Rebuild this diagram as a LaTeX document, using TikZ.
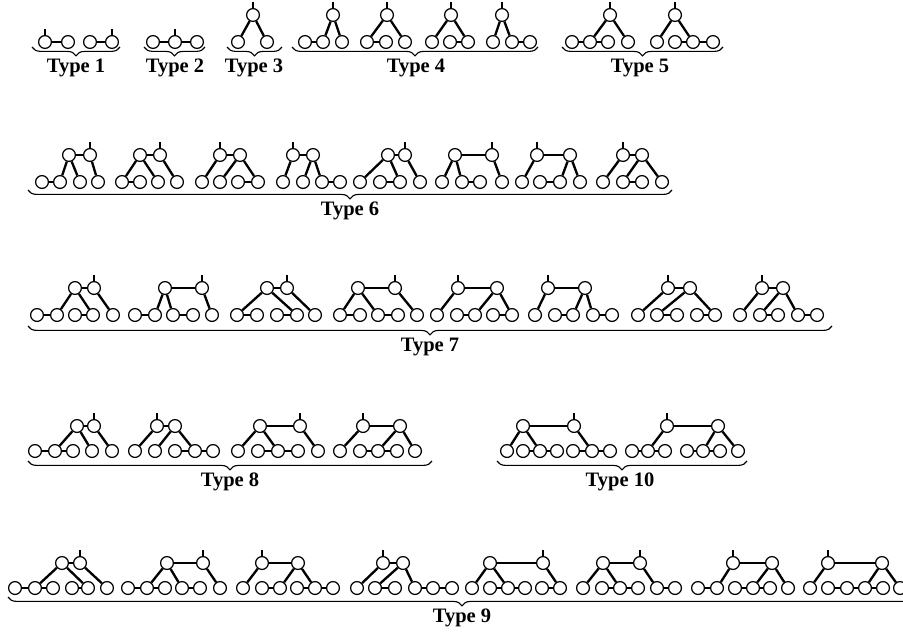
\documentclass[tikz,border=0pt]{standalone}
\usepackage{fontspec}
\setmainfont{Liberation Serif}
\usetikzlibrary{decorations.pathreplacing}

\tikzset{
  vtx/.style={circle,draw,fill=white,inner sep=0pt,minimum size=0.385cm,line width=1.05pt},
  edge/.style={line width=2pt},
  rootmark/.style={line width=0.9pt},
  brc/.style={decorate,decoration={brace,mirror,amplitude=7.5pt},line width=0.95pt},
  lbl/.style={font=\bfseries\fontsize{17.5}{19}\selectfont},
}

% rows of circles, links and the root mark
\newcommand{\botrow}[3]{\foreach \bx [count=\bi] in {#3} \node[vtx] (#1b\bi) at (\bx,#2) {};}
\newcommand{\toprow}[3]{\foreach \tx [count=\ti] in {#3} \node[vtx] (#1t\ti) at (\tx,#2) {};}
\newcommand{\links}[2]{\foreach \p/\q in {#2} \draw[edge] (#1\p) -- (#1\q);}
\newcommand{\rootat}[1]{\draw[rootmark] (#1.north) -- ++(0,-6);}

\begin{document}
\begin{tikzpicture}[x=0.03cm,y=-0.03cm]
  \useasboundingbox (0,0) rectangle (903,631);

  % Types 1 to 5
  \botrow{s1a}{42}{45,68} \links{s1a}{b1/b2} \rootat{s1ab1}
  \botrow{s1b}{42}{90,112} \links{s1b}{b1/b2} \rootat{s1bb2}
  \botrow{s2a}{42}{153,175,197} \links{s2a}{b1/b2,b2/b3} \rootat{s2ab2}
  \toprow{s3a}{15}{253} \botrow{s3a}{42}{238,267}
  \links{s3a}{t1/b1,t1/b2} \rootat{s3at1}
  \toprow{s4a}{15}{333} \botrow{s4a}{42}{305,323,342}
  \links{s4a}{b1/b2,t1/b2,t1/b3} \rootat{s4at1}
  \toprow{s4b}{15}{387} \botrow{s4b}{42}{367,386,405}
  \links{s4b}{t1/b1,b1/b2,t1/b3} \rootat{s4bt1}
  \toprow{s4c}{15}{451} \botrow{s4c}{42}{432,450,468}
  \links{s4c}{t1/b1,t1/b3,b2/b3} \rootat{s4ct1}
  \toprow{s4d}{15}{502} \botrow{s4d}{42}{493,512,530}
  \links{s4d}{t1/b1,t1/b2,b2/b3} \rootat{s4dt1}
  \toprow{s5a}{15}{610} \botrow{s5a}{42}{572,590,608,628}
  \links{s5a}{b1/b2,b2/b3,t1/b2,t1/b4} \rootat{s5at1}
  \toprow{s5b}{15}{675} \botrow{s5b}{42}{657,675,693,713}
  \links{s5b}{t1/b1,t1/b3,b2/b3,b3/b4} \rootat{s5bt1}

  \draw[brc] (32,47) -- (120,47);
  \draw[brc] (144,47) -- (205,47);
  \draw[brc] (227,47) -- (282,47);
  \draw[brc] (292,47) -- (538,47);
  \draw[brc] (562,47) -- (723,47);
  \node[lbl] (lab1) at (76,68) {Type 1};
  \node[lbl] (lab2) at (175,68) {Type 2};
  \node[lbl] (lab3) at (254,68) {Type 3};
  \node[lbl] (lab4) at (416,68) {Type 4};
  \node[lbl] (lab5) at (640,68) {Type 5};

  % Type 6
  \toprow{s6a}{155}{69,90} \botrow{s6a}{182}{42,60,80,98}
  \links{s6a}{t1/t2,b1/b2,t1/b2,t1/b3,t2/b4} \rootat{s6at2}
  \toprow{s6b}{155}{140,160} \botrow{s6b}{182}{122,140,158,177}
  \links{s6b}{t1/t2,b1/b2,t1/b1,t1/b3,t2/b4} \rootat{s6bt2}
  \toprow{s6c}{155}{220,240} \botrow{s6c}{182}{202,220,238,258}
  \links{s6c}{t1/t2,t1/b1,t2/b2,t2/b4,b3/b4} \rootat{s6ct1}
  \toprow{s6d}{155}{293,313} \botrow{s6d}{182}{283,303,322,340}
  \links{s6d}{t1/t2,t1/b1,t2/b2,t2/b3,b3/b4} \rootat{s6dt1}
  \toprow{s6e}{155}{388,405} \botrow{s6e}{182}{360,380,400,420}
  \links{s6e}{t1/t2,t1/b1,t1/b3,b2/b3,t2/b4} \rootat{s6et2}
  \toprow{s6f}{155}{455,492} \botrow{s6f}{182}{442,462,480,502}
  \links{s6f}{t1/t2,t1/b1,t1/b2,b2/b3,t2/b4} \rootat{s6ft2}
  \toprow{s6g}{155}{537,570} \botrow{s6g}{182}{522,540,560,580}
  \links{s6g}{t1/t2,t1/b1,t2/b3,t2/b4,b2/b3} \rootat{s6gt1}
  \toprow{s6h}{155}{623,642} \botrow{s6h}{182}{603,623,642,662}
  \links{s6h}{t1/t2,t1/b1,t2/b2,t2/b4,b2/b3} \rootat{s6ht1}
  \draw[brc] (28,190) -- (672,190);
  \node[lbl] (lab6) at (350,211) {Type 6};

  % Type 7
  \toprow{s7a}{288}{75,94} \botrow{s7a}{315}{37,57,75,93,113}
  \links{s7a}{b1/b2,b3/b4,t1/t2,t1/b2,t1/b4,t2/b5} \rootat{s7at2}
  \toprow{s7b}{288}{165,202} \botrow{s7b}{315}{135,155,173,193,212}
  \links{s7b}{b1/b2,b3/b4,t1/t2,t1/b2,t1/b3,t2/b5} \rootat{s7bt2}
  \toprow{s7c}{288}{267,287} \botrow{s7c}{315}{237,257,277,297,315}
  \links{s7c}{b1/b2,b3/b4,t1/t2,t1/b1,t1/b4,t2/b5} \rootat{s7ct2}
  \toprow{s7d}{288}{358,395} \botrow{s7d}{315}{340,360,378,398,417}
  \links{s7d}{b1/b2,b3/b4,t1/t2,t1/b1,t1/b3,t2/b5} \rootat{s7dt2}
  \toprow{s7e}{288}{458,497} \botrow{s7e}{315}{437,457,475,493,512}
  \links{s7e}{t1/t2,t1/b1,b2/b3,t2/b3,b4/b5,t2/b5} \rootat{s7et1}
  \toprow{s7f}{288}{548,585} \botrow{s7f}{315}{535,555,573,593,612}
  \links{s7f}{t1/t2,t1/b1,b2/b3,t2/b3,t2/b4,b4/b5} \rootat{s7ft1}
  \toprow{s7g}{288}{668,690} \botrow{s7g}{315}{638,657,677,697,715}
  \links{s7g}{t1/t2,t1/b1,t2/b2,t2/b5,b2/b3,b4/b5} \rootat{s7gt1}
  \toprow{s7h}{288}{762,783} \botrow{s7h}{315}{740,760,778,798,817}
  \links{s7h}{t1/t2,t1/b1,t2/b2,t2/b4,b2/b3,b4/b5} \rootat{s7ht1}
  \draw[brc] (28,326) -- (832,326);
  \node[lbl] (lab7) at (430,347) {Type 7};

  % Types 8 and 10
  \toprow{s8a}{426}{77,94} \botrow{s8a}{451}{35,55,73,92,112}
  \links{s8a}{b1/b2,b2/b3,t1/t2,t1/b2,t1/b4,t2/b5} \rootat{s8at2}
  \toprow{s8b}{426}{157,175} \botrow{s8b}{451}{135,155,175,195,213}
  \links{s8b}{b3/b4,b4/b5,t1/t2,t1/b1,t2/b2,t2/b4} \rootat{s8bt1}
  \toprow{s8c}{426}{260,300} \botrow{s8c}{451}{238,258,278,298,318}
  \links{s8c}{b2/b3,b3/b4,t1/t2,t1/b1,t1/b3,t2/b5} \rootat{s8ct2}
  \toprow{s8d}{426}{363,400} \botrow{s8d}{451}{340,360,378,397,415}
  \links{s8d}{b2/b3,b3/b4,t1/t2,t1/b1,t2/b3,t2/b5} \rootat{s8dt1}
  \toprow{s10a}{426}{523,574} \botrow{s10a}{451}{507,523,540,557,573,592,610}
  \links{s10a}{t1/t2,t1/b1,t1/b3,t2/b6,b2/b3,b3/b4,b5/b6,b6/b7} \rootat{s10at2}
  \toprow{s10b}{426}{667,718} \botrow{s10b}{451}{632,648,665,687,703,720,738}
  \links{s10b}{t1/t2,t1/b2,t2/b5,t2/b7,b1/b2,b2/b3,b4/b5,b5/b6} \rootat{s10bt1}
  \draw[brc] (28,461) -- (432,461);
  \draw[brc] (497,461) -- (747,461);
  \node[lbl] (lab8) at (230,482) {Type 8};
  \node[lbl] (lab10) at (620,482) {Type 10};

  % Type 9
  \toprow{s9a}{563}{62,80} \botrow{s9a}{588}{15,35,53,72,88,107}
  \links{s9a}{b1/b2,b2/b3,b4/b5,t1/t2,t1/b2,t1/b5,t2/b6} \rootat{s9at2}
  \toprow{s9b}{563}{167,203} \botrow{s9b}{588}{128,147,165,182,200,220}
  \links{s9b}{b1/b2,b2/b3,b4/b5,t1/t2,t1/b2,t1/b4,t2/b6} \rootat{s9bt2}
  \toprow{s9c}{563}{262,298} \botrow{s9c}{588}{243,262,280,297,315,333}
  \links{s9c}{b2/b3,b4/b5,b5/b6,t1/t2,t1/b1,t2/b3,t2/b5} \rootat{s9ct1}
  \toprow{s9d}{563}{383,403} \botrow{s9d}{588}{357,375,395,415,433,452}
  \links{s9d}{b2/b3,b4/b5,b5/b6,t1/t2,t1/b1,t2/b2,t2/b4} \rootat{s9dt1}
  \toprow{s9e}{563}{490,543} \botrow{s9e}{588}{472,490,508,525,542,560}
  \links{s9e}{t1/t2,t1/b1,t1/b3,t2/b6,b2/b3,b3/b4,b5/b6} \rootat{s9et2}
  \toprow{s9f}{563}{603,640} \botrow{s9f}{588}{583,602,620,638,657,675}
  \links{s9f}{t1/t2,t1/b1,t1/b3,t2/b5,b2/b3,b3/b4,b5/b6} \rootat{s9ft2}
  \toprow{s9g}{563}{733,772} \botrow{s9g}{588}{698,717,735,753,770,788}
  \links{s9g}{t1/t2,t1/b2,t2/b4,t2/b6,b1/b2,b3/b4,b4/b5} \rootat{s9gt1}
  \toprow{s9h}{563}{828,882} \botrow{s9h}{588}{810,828,847,865,883,900}
  \links{s9h}{t1/t2,t1/b1,t2/b4,t2/b6,b2/b3,b3/b4,b4/b5} \rootat{s9ht1}
  \draw[brc] (8,597) -- (916,597);
  \node[lbl] (lab9) at (462,618) {Type 9};
\end{tikzpicture}
\end{document}
